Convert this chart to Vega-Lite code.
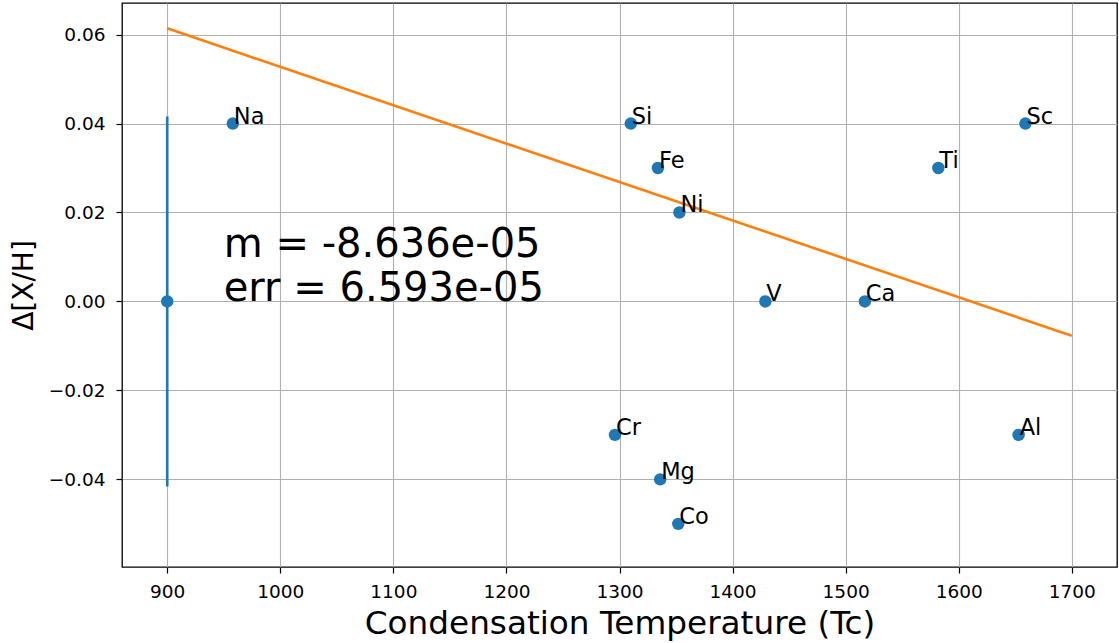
{
  "$schema": "https://vega.github.io/schema/vega-lite/v6.json",
  "width": 995,
  "height": 564,
  "autosize": {"type": "none"},
  "padding": {"left": 122, "top": 3, "right": 2, "bottom": 76},
  "background": "white",
  "config": {
    "view": {"stroke": "black", "strokeWidth": 1.3},
    "font": "DejaVu Sans",
    "axis": {
      "grid": true,
      "gridColor": "#b0b0b0",
      "gridWidth": 1.1,
      "domain": false,
      "tickColor": "black",
      "tickSize": 6,
      "tickWidth": 1.2,
      "labelFont": "DejaVu Sans",
      "labelFontSize": 18.5,
      "labelColor": "black",
      "titleFont": "DejaVu Sans",
      "titleFontWeight": "normal",
      "titleColor": "black"
    }
  },
  "datasets": {
    "pts": [
      {"el": "Na", "tc": 958, "dx": 0.04},
      {"el": "Si", "tc": 1310, "dx": 0.04},
      {"el": "Fe", "tc": 1334, "dx": 0.03},
      {"el": "Ni", "tc": 1353, "dx": 0.02},
      {"el": "V", "tc": 1429, "dx": 0.0},
      {"el": "Ca", "tc": 1517, "dx": 0.0},
      {"el": "Ti", "tc": 1582, "dx": 0.03},
      {"el": "Sc", "tc": 1659, "dx": 0.04},
      {"el": "Cr", "tc": 1296, "dx": -0.03},
      {"el": "Mg", "tc": 1336, "dx": -0.04},
      {"el": "Co", "tc": 1352, "dx": -0.05},
      {"el": "Al", "tc": 1653, "dx": -0.03}
    ],
    "err": [
      {"tc": 900, "dx": 0.0, "lo": -0.0416, "hi": 0.0416}
    ],
    "fit": [
      {"tc": 900, "dx": 0.0614},
      {"tc": 1700, "dx": -0.0077}
    ],
    "note": [
      {"tc": 950, "dx": 0.0, "t": "m = -8.636e-05\nerr = 6.593e-05"}
    ]
  },
  "encoding": {
    "x": {
      "field": "tc",
      "type": "quantitative",
      "scale": {"domain": [860, 1740], "nice": false, "zero": false},
      "axis": {
        "values": [900, 1000, 1100, 1200, 1300, 1400, 1500, 1600, 1700],
        "format": "d",
        "labelPadding": 9,
        "title": "Condensation Temperature (Tc)",
        "titleFontSize": 32.7,
        "titlePadding": 7
      }
    },
    "y": {
      "field": "dx",
      "type": "quantitative",
      "scale": {"domain": [-0.0597, 0.0671], "nice": false, "zero": false},
      "axis": {
        "values": [-0.04, -0.02, 0, 0.02, 0.04, 0.06],
        "format": ".2f",
        "labelPadding": 11,
        "title": "Δ[X/H]",
        "titleFontSize": 28,
        "titlePadding": 10
      }
    }
  },
  "layer": [
    {
      "data": {"name": "err"},
      "mark": {"type": "rule", "color": "#1f77b4", "strokeWidth": 2.6},
      "encoding": {"y": {"field": "lo", "type": "quantitative"}, "y2": {"field": "hi"}}
    },
    {
      "data": {"name": "err"},
      "mark": {"type": "circle", "color": "#1f77b4", "opacity": 1, "size": 155}
    },
    {
      "data": {"name": "fit"},
      "mark": {"type": "line", "color": "#ff7f0e", "strokeWidth": 2.6}
    },
    {
      "data": {"name": "pts"},
      "mark": {"type": "circle", "color": "#1f77b4", "opacity": 1, "size": 155}
    },
    {
      "data": {"name": "pts"},
      "mark": {"type": "text", "align": "left", "baseline": "alphabetic", "dx": 1, "fontSize": 22.5, "color": "black", "font": "DejaVu Sans"},
      "encoding": {"text": {"field": "el"}}
    },
    {
      "data": {"name": "note"},
      "mark": {"type": "text", "align": "left", "baseline": "alphabetic", "lineBreak": "\n", "lineHeight": 44, "dy": -44, "fontSize": 40, "color": "black", "font": "DejaVu Sans"},
      "encoding": {"text": {"field": "t"}}
    }
  ]
}
